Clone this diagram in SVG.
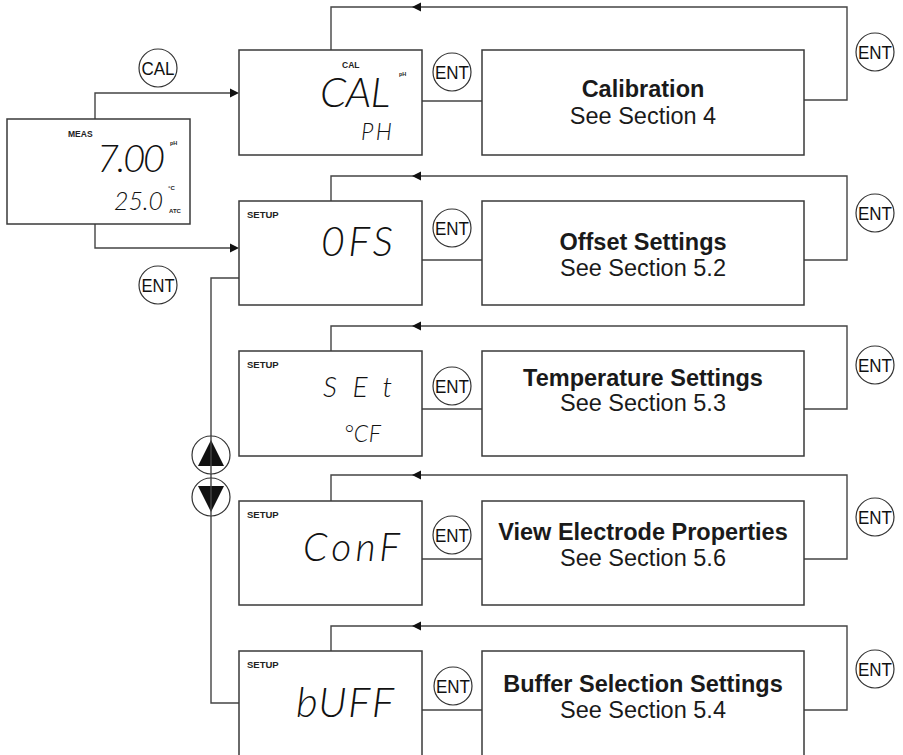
<svg xmlns="http://www.w3.org/2000/svg" width="903" height="755" viewBox="0 0 903 755">
<style>
.box{fill:#fff;stroke:#3a3a3a;stroke-width:1.5}
.ln{fill:none;stroke:#444;stroke-width:1.4}
.btn{fill:#fff;stroke:#333;stroke-width:1.2}
.bt{font-family:"Liberation Sans",Arial,sans-serif;font-size:19px;fill:#111;text-anchor:middle}
.seg{font-family:Lato,"DejaVu Sans",sans-serif;font-weight:300;font-style:italic;fill:#111}
.lab{font-family:"Liberation Sans",Arial,sans-serif;font-weight:bold;fill:#222}
.t1{font-family:"Liberation Sans",Arial,sans-serif;font-weight:bold;font-size:23.5px;fill:#1a1a1a;text-anchor:middle}
.t2{font-family:"Liberation Sans",Arial,sans-serif;font-size:23.5px;fill:#1a1a1a;text-anchor:middle}
.ah{fill:#111}
</style>
<rect width="903" height="755" fill="#fff"/>
<g id="connectors">
<path class="ln" d="M95 119V93H236"/>
<path class="ln" d="M95 224V248H236"/>
<polygon class="ah" points="239,93 230,88.5 230,97.5"/>
<polygon class="ah" points="239,248 230,243.5 230,252.5"/>
<path class="ln" d="M211 436V278H243"/>
<path class="ln" d="M211 474V478"/>
<path class="ln" d="M211 516V703H239"/>
<path class="ln" d="M331 50V7H847V100H804"/>
<path class="ln" d="M331 201V176H847V260H804"/>
<path class="ln" d="M331 351V326H847V409H804"/>
<path class="ln" d="M331 501V475H847V559H804"/>
<path class="ln" d="M331 651V626H847V710H804"/>
<polygon class="ah" points="412,7 421,2.5 421,11.5"/>
<polygon class="ah" points="412,176 421,171.5 421,180.5"/>
<polygon class="ah" points="412,326 421,321.5 421,330.5"/>
<polygon class="ah" points="412,475 421,470.5 421,479.5"/>
<polygon class="ah" points="412,626 421,621.5 421,630.5"/>
<path class="ln" d="M422 101H482"/>
<path class="ln" d="M422 260H482"/>
<path class="ln" d="M422 409H482"/>
<path class="ln" d="M422 559H482"/>
<path class="ln" d="M422 710H482"/>
</g>
<g id="meas">
<rect class="box" x="7" y="119" width="183" height="105"/>
<text class="lab" x="68" y="137" font-size="8.5">MEAS</text>
<text class="seg" x="97" y="172" font-size="38" textLength="68" lengthAdjust="spacing">7.00</text>
<text class="lab" x="170" y="145" font-size="5.5">pH</text>
<text class="seg" x="114" y="210" font-size="25" textLength="49" lengthAdjust="spacing">25.0</text>
<text class="lab" x="168" y="190" font-size="6">°C</text>
<text class="lab" x="169" y="213" font-size="6">ATC</text>
</g>
<g id="btn-cal">
<circle class="btn" cx="158" cy="68" r="19"/>
<text class="bt" x="158" y="75" textLength="33" lengthAdjust="spacingAndGlyphs">CAL</text>
</g>
<g id="btn-ent-start">
<circle class="btn" cx="158" cy="285" r="19"/>
<text class="bt" x="158" y="292" textLength="33" lengthAdjust="spacingAndGlyphs">ENT</text>
</g>
<g id="disp-cal">
<rect class="box" x="239" y="50" width="183" height="105"/>
<text class="lab" x="342" y="68" font-size="8.5">CAL</text>
<text class="lab" x="399" y="76" font-size="5.5">pH</text>
<text class="seg" x="320" y="107" font-size="42" textLength="70" lengthAdjust="spacing">CAL</text>
<text class="seg" x="361" y="140" font-size="23" textLength="31" lengthAdjust="spacing">PH</text>
</g>
<g id="disp-ofs">
<rect class="box" x="239" y="201" width="183" height="104"/>
<text class="lab" x="247" y="218" font-size="9.5">SETUP</text>
<text class="seg" x="321" y="256" font-size="41" textLength="72" lengthAdjust="spacing">0FS</text>
</g>
<g id="disp-set">
<rect class="box" x="239" y="351" width="183" height="105"/>
<text class="lab" x="247" y="368" font-size="9.5">SETUP</text>
<text class="seg" x="323" y="397" font-size="28" textLength="69" lengthAdjust="spacing">SEt</text>
<text class="seg" x="344" y="442" font-size="23" textLength="37" lengthAdjust="spacing">°CF</text>
</g>
<g id="disp-conf">
<rect class="box" x="239" y="501" width="183" height="104"/>
<text class="lab" x="247" y="518" font-size="9.5">SETUP</text>
<text class="seg" x="303" y="561" font-size="39" textLength="97" lengthAdjust="spacing">ConF</text>
</g>
<g id="disp-buff">
<rect class="box" x="239" y="651" width="183" height="106"/>
<text class="lab" x="247" y="668" font-size="9.5">SETUP</text>
<text class="seg" x="296" y="717" font-size="42" textLength="98" lengthAdjust="spacing">bUFF</text>
</g>
<g id="btn-up">
<circle class="btn" cx="211" cy="455" r="19"/>
<polygon class="ah" points="211,440 198,466 224,466"/>
<path class="ln" d="M211 436V474"/>
</g>
<g id="btn-down">
<circle class="btn" cx="211" cy="497" r="19"/>
<polygon class="ah" points="211,512 198,486 224,486"/>
<path class="ln" d="M211 478V516"/>
</g>
<g id="ent-1"><circle class="btn" cx="452" cy="72" r="19"/><text class="bt" x="452" y="79" textLength="34" lengthAdjust="spacingAndGlyphs">ENT</text></g>
<g id="ent-2"><circle class="btn" cx="452" cy="228" r="19"/><text class="bt" x="452" y="235" textLength="34" lengthAdjust="spacingAndGlyphs">ENT</text></g>
<g id="ent-3"><circle class="btn" cx="452" cy="386" r="19"/><text class="bt" x="452" y="393" textLength="34" lengthAdjust="spacingAndGlyphs">ENT</text></g>
<g id="ent-4"><circle class="btn" cx="452" cy="535" r="19"/><text class="bt" x="452" y="542" textLength="34" lengthAdjust="spacingAndGlyphs">ENT</text></g>
<g id="ent-5"><circle class="btn" cx="453" cy="686" r="19"/><text class="bt" x="453" y="693" textLength="34" lengthAdjust="spacingAndGlyphs">ENT</text></g>
<g id="ent-r1"><circle class="btn" cx="875" cy="52" r="19"/><text class="bt" x="875" y="59" textLength="34" lengthAdjust="spacingAndGlyphs">ENT</text></g>
<g id="ent-r2"><circle class="btn" cx="875" cy="213" r="19"/><text class="bt" x="875" y="220" textLength="34" lengthAdjust="spacingAndGlyphs">ENT</text></g>
<g id="ent-r3"><circle class="btn" cx="875" cy="365" r="19"/><text class="bt" x="875" y="372" textLength="34" lengthAdjust="spacingAndGlyphs">ENT</text></g>
<g id="ent-r4"><circle class="btn" cx="875" cy="517" r="19"/><text class="bt" x="875" y="524" textLength="34" lengthAdjust="spacingAndGlyphs">ENT</text></g>
<g id="ent-r5"><circle class="btn" cx="875" cy="669" r="19"/><text class="bt" x="875" y="676" textLength="34" lengthAdjust="spacingAndGlyphs">ENT</text></g>
<g id="calibration">
<rect class="box" x="482" y="50" width="322" height="105"/>
<text class="t1" x="643" y="97">Calibration</text>
<text class="t2" x="643" y="124">See Section 4</text>
</g>
<g id="offset">
<rect class="box" x="482" y="201" width="322" height="104"/>
<text class="t1" x="643" y="250">Offset Settings</text>
<text class="t2" x="643" y="276">See Section 5.2</text>
</g>
<g id="temperature">
<rect class="box" x="482" y="351" width="322" height="105"/>
<text class="t1" x="643" y="386">Temperature Settings</text>
<text class="t2" x="643" y="411">See Section 5.3</text>
</g>
<g id="electrode">
<rect class="box" x="482" y="501" width="322" height="104"/>
<text class="t1" x="643" y="540">View Electrode Properties</text>
<text class="t2" x="643" y="566">See Section 5.6</text>
</g>
<g id="buffer">
<rect class="box" x="482" y="651" width="322" height="106"/>
<text class="t1" x="643" y="692">Buffer Selection Settings</text>
<text class="t2" x="643" y="718">See Section 5.4</text>
</g>
</svg>
